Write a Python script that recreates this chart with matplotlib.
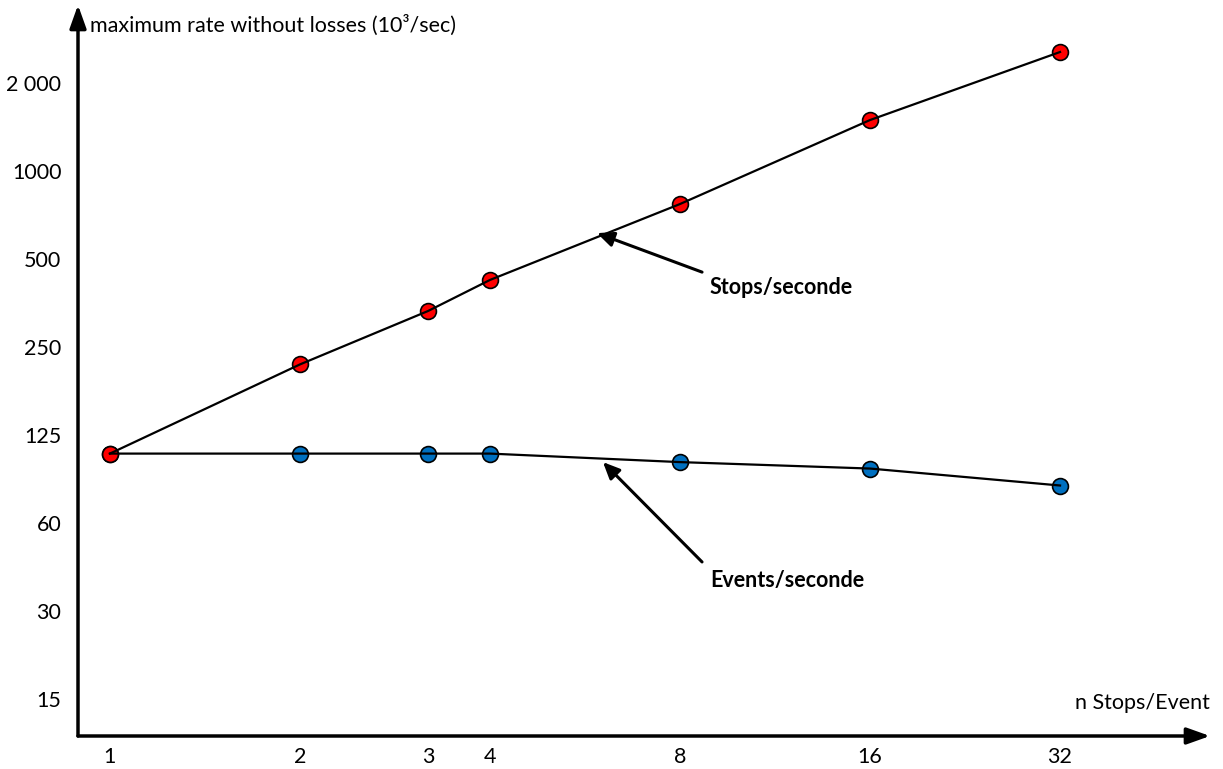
import numpy as np
import matplotlib
matplotlib.use("Agg")
import matplotlib.pyplot as plt

# n stops per event
stops_per_event = [1, 2, 3, 4, 8, 16, 32]
# max rate without losses (10^3/sec)
stops_rate = [108, 218, 332, 424, 771, 1494, 2553]
events_rate = [108, 108, 108, 108, 101, 96, 84]

x_ticks = [1, 2, 3, 4, 8, 16, 32]
y_ticks = [15.625, 31.25, 62.5, 125, 250, 500, 1000, 2000]
y_tick_labels = ["15", "30", "60", "125", "250", "500", "1000", "2 000"]

plt.rcParams["font.family"] = ["Lato", "DejaVu Sans"]
FS = 15.5


# log2 axis, but the "3" sits a bit further right than a true log would put it
def fwd(x):
    t = np.log2(np.clip(x, 1e-9, None))
    seg = (t > 1) & (t < 2)
    return np.where(seg, np.interp(t, [1, np.log2(3), 2], [1, 1.674, 2]), t)


def inv(u):
    seg = (u > 1) & (u < 2)
    t = np.where(seg, np.interp(u, [1, 1.674, 2], [1, np.log2(3), 2]), u)
    return 2.0 ** t


fig = plt.figure(figsize=(12.23, 7.69), dpi=100)
ax = fig.add_axes([78 / 1223, 33 / 769, 1132 / 1223, 731 / 769])
ax.set_xscale("function", functions=(fwd, inv))
ax.set_yscale("log", base=2)
ax.set_xlim(0.89, 55.3)
ax.set_ylim(11.68, 3697)

# markers under the lines, like the original
ax.scatter(stops_per_event, events_rate, s=130, color="#0070C0", edgecolor="black", linewidth=1.2, zorder=2)
ax.scatter(stops_per_event, stops_rate, s=130, color="#FF0000", edgecolor="black", linewidth=1.2, zorder=2.5)
ax.plot(stops_per_event, events_rate, color="black", lw=1.6, zorder=3)
ax.plot(stops_per_event, stops_rate, color="black", lw=1.6, zorder=3)

for s in ax.spines.values():
    s.set_visible(False)

# axes as arrows
ax.annotate("", xy=(1, 0), xytext=(0, 0), xycoords="axes fraction",
            arrowprops=dict(arrowstyle="-|>,head_length=1.4,head_width=0.5", color="black", lw=2.5,
                            shrinkA=0, shrinkB=0))
ax.annotate("", xy=(0, 1), xytext=(0, 0), xycoords="axes fraction",
            arrowprops=dict(arrowstyle="-|>,head_length=1.4,head_width=0.5", color="black", lw=2.5,
                            shrinkA=0, shrinkB=0))

ax.set_xticks(x_ticks)
ax.set_xticklabels([str(v) for v in x_ticks])
ax.set_yticks(y_ticks)
ax.set_yticklabels(y_tick_labels)
ax.minorticks_off()
ax.tick_params(axis="x", length=0, pad=8, labelsize=FS)
ax.tick_params(axis="y", length=0, pad=12, labelsize=FS)

ax.text(12 / 1132, 1 - 20 / 731, "maximum rate without losses (10³/sec)", transform=ax.transAxes,
        fontsize=FS, va="center", ha="left")
ax.text(1.0, 33 / 731, "n Stops/Event", transform=ax.transAxes, fontsize=FS, va="center", ha="right")

# callouts
arrow = dict(arrowstyle="-|>,head_length=1.0,head_width=0.45", color="black", lw=2.2, shrinkA=0, shrinkB=0)
ax.annotate("", xy=(5.91, 613), xytext=(8.67, 451), arrowprops=arrow)
ax.annotate("", xy=(6.04, 101), xytext=(8.67, 46), arrowprops=arrow)
ax.text(8.92, 398, "Stops/seconde", fontsize=FS, fontweight="bold", va="center", ha="left")
ax.text(8.92, 39.6, "Events/seconde", fontsize=FS, fontweight="bold", va="center", ha="left")

fig.savefig("out.png", dpi=100)
